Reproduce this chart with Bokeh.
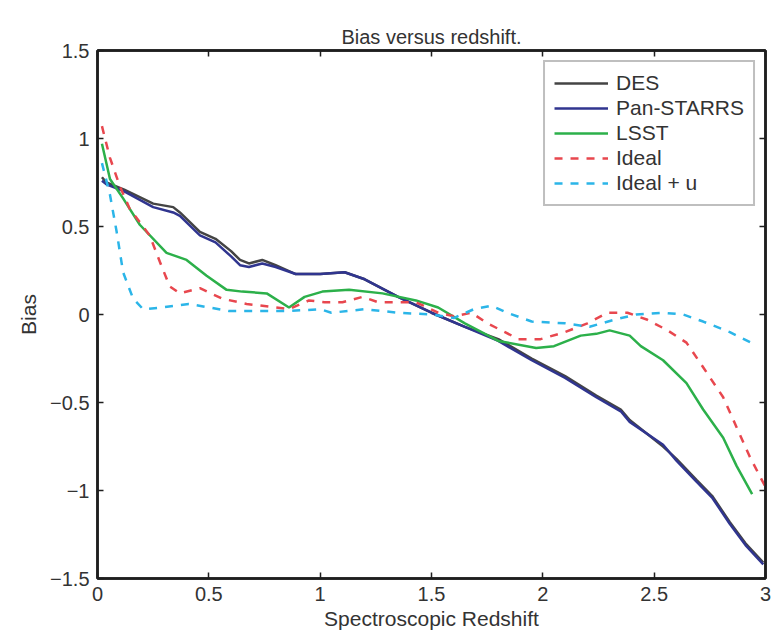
from bokeh.plotting import figure
from bokeh.models import LinearAxis, Range1d, Legend, LegendItem, FixedTicker, Title
from bokeh.embed import file_html
from bokeh.resources import INLINE

# ---- data ----
z_des = [0.02, 0.04, 0.12, 0.25, 0.34, 0.37, 0.46, 0.53, 0.60, 0.64, 0.68, 0.74, 0.80, 0.89,
         1.00, 1.11, 1.20, 1.35, 1.50, 1.65, 1.80, 1.95, 2.10, 2.24, 2.35, 2.39, 2.54, 2.60,
         2.69, 2.76, 2.84, 2.91, 2.99]
b_des = [0.78, 0.75, 0.71, 0.63, 0.61, 0.58, 0.47, 0.43, 0.36, 0.31, 0.29, 0.31, 0.28, 0.23,
         0.23, 0.24, 0.20, 0.10, 0.01, -0.07, -0.14, -0.25, -0.35, -0.46, -0.54, -0.60, -0.75,
         -0.82, -0.94, -1.03, -1.18, -1.30, -1.41]
z_pan = [0.02, 0.04, 0.12, 0.25, 0.34, 0.37, 0.46, 0.53, 0.60, 0.64, 0.68, 0.74, 0.80, 0.89,
         1.00, 1.11, 1.20, 1.35, 1.50, 1.65, 1.80, 1.95, 2.10, 2.24, 2.35, 2.39, 2.54, 2.60,
         2.69, 2.76, 2.84, 2.91, 2.99]
b_pan = [0.76, 0.74, 0.70, 0.61, 0.58, 0.56, 0.45, 0.41, 0.33, 0.28, 0.27, 0.29, 0.27, 0.23,
         0.23, 0.24, 0.20, 0.10, 0.01, -0.07, -0.15, -0.26, -0.36, -0.47, -0.55, -0.61, -0.74,
         -0.83, -0.95, -1.04, -1.19, -1.31, -1.42]
z_lsst = [0.02, 0.056, 0.115, 0.19, 0.31, 0.40, 0.49, 0.58, 0.65, 0.76, 0.86, 0.93, 1.01,
          1.13, 1.28, 1.43, 1.53, 1.65, 1.80, 1.97, 2.05, 2.17, 2.24, 2.30, 2.39, 2.44,
          2.54, 2.645, 2.72, 2.81, 2.87, 2.94]
b_lsst = [0.97, 0.77, 0.66, 0.51, 0.35, 0.31, 0.22, 0.14, 0.13, 0.12, 0.04, 0.10, 0.13,
          0.14, 0.12, 0.08, 0.04, -0.05, -0.15, -0.19, -0.18, -0.12, -0.11, -0.09, -0.12, -0.18,
          -0.26, -0.39, -0.54, -0.70, -0.86, -1.02]
z_ideal = [0.02, 0.056, 0.10, 0.145, 0.234, 0.28, 0.324, 0.37, 0.46, 0.56, 0.67, 0.80, 0.86,
           0.95, 1.02, 1.10, 1.19, 1.26, 1.34, 1.43, 1.53, 1.60, 1.68, 1.75, 1.83, 1.89,
           1.99, 2.10, 2.20, 2.29, 2.38, 2.47, 2.56, 2.645, 2.72, 2.81, 2.87, 2.93, 3.0]
b_ideal = [1.07, 0.89, 0.73, 0.60, 0.45, 0.30, 0.16, 0.12, 0.15, 0.09, 0.06, 0.04, 0.03,
           0.08, 0.07, 0.07, 0.10, 0.07, 0.07, 0.07, 0.01, -0.01, 0.01, -0.05, -0.10, -0.14,
           -0.14, -0.10, -0.05, 0.01, 0.01, -0.03, -0.09, -0.16, -0.30, -0.47, -0.64, -0.81, -0.98]
z_idealu = [0.02, 0.056, 0.086, 0.115, 0.16, 0.205, 0.29, 0.41, 0.50, 0.59, 0.71, 0.86, 1.00,
            1.05, 1.20, 1.35, 1.50, 1.60, 1.69, 1.77, 1.84, 1.95, 2.10, 2.21, 2.32, 2.42,
            2.54, 2.63, 2.72, 2.84, 2.95]
b_idealu = [0.86, 0.68, 0.47, 0.24, 0.09, 0.03, 0.04, 0.06, 0.04, 0.02, 0.02, 0.02, 0.03,
            0.01, 0.03, 0.01, 0.00, -0.02, 0.03, 0.05, 0.01, -0.04, -0.05, -0.07, -0.03, 0.00,
            0.01, 0.00, -0.04, -0.10, -0.17]

x_ticks = [0, 0.5, 1, 1.5, 2, 2.5, 3]
y_ticks = [-1.5, -1, -0.5, 0, 0.5, 1, 1.5]

FONT = "Liberation Sans"
TXT = "#333333"
AX = "#1e1e1e"

p = figure(width=771, height=635, output_backend="svg", toolbar_location=None,
           x_range=Range1d(0, 3), y_range=Range1d(-1.5, 1.5),
           min_border_left=97, min_border_right=6, min_border_top=50, min_border_bottom=57)
p.background_fill_color = "white"
p.border_fill_color = "white"
p.outline_line_color = AX
p.outline_line_width = 2.5
p.xgrid.visible = False
p.ygrid.visible = False

p.title = Title(text="Bias versus redshift.", align="center", text_font=FONT,
                text_font_size="20px", text_font_style="normal", text_color=TXT,
                standoff=6)

for ax in (p.xaxis[0], p.yaxis[0]):
    ax.axis_line_color = AX
    ax.axis_line_width = 2.5
    ax.major_tick_in = 6
    ax.major_tick_out = 0
    ax.minor_tick_line_color = None
    ax.major_tick_line_color = AX
    ax.major_tick_line_width = 1.5
    ax.major_label_text_font = FONT
    ax.major_label_text_font_size = "20px"
    ax.major_label_text_color = TXT
    ax.axis_label_text_font = FONT
    ax.axis_label_text_font_size = "21px"
    ax.axis_label_text_font_style = "normal"
    ax.axis_label_text_color = TXT

p.xaxis[0].ticker = FixedTicker(ticks=x_ticks)
p.yaxis[0].ticker = FixedTicker(ticks=y_ticks)
p.xaxis[0].axis_label = "Spectroscopic Redshift"
p.yaxis[0].axis_label = "Bias"
p.xaxis[0].major_label_standoff = 8
p.xaxis[0].axis_label_standoff = 3
p.yaxis[0].major_label_standoff = 8
p.yaxis[0].axis_label_standoff = 7

top = LinearAxis(ticker=FixedTicker(ticks=x_ticks), major_tick_in=6, major_tick_out=0,
                 major_tick_line_color=AX, major_tick_line_width=1.5,
                 minor_tick_line_color=None, major_label_text_font_size="0px",
                 major_label_text_color=None, major_label_standoff=0,
                 axis_line_color=AX, axis_line_width=2.5)
right = LinearAxis(ticker=FixedTicker(ticks=y_ticks), major_tick_in=6, major_tick_out=0,
                   major_tick_line_color=AX, major_tick_line_width=1.5,
                   minor_tick_line_color=None, major_label_text_font_size="0px",
                   major_label_text_color=None, major_label_standoff=0,
                   axis_line_color=AX, axis_line_width=2.5)
p.add_layout(top, "above")
p.add_layout(right, "right")

r1 = p.line(z_des, b_des, line_color="#444444", line_width=2.5)
r2 = p.line(z_pan, b_pan, line_color="#30358f", line_width=2.5)
r3 = p.line(z_lsst, b_lsst, line_color="#2cb04a", line_width=2.5)
r4 = p.line(z_ideal, b_ideal, line_color="#e8474e", line_width=2.5, line_dash="8 8")
r5 = p.line(z_idealu, b_idealu, line_color="#2bb5e8", line_width=2.5, line_dash="8 8")

legend = Legend(items=[LegendItem(label="DES", renderers=[r1]),
                       LegendItem(label="Pan-STARRS", renderers=[r2]),
                       LegendItem(label="LSST", renderers=[r3]),
                       LegendItem(label="Ideal", renderers=[r4]),
                       LegendItem(label="Ideal + u", renderers=[r5])],
                location="top_right")
legend.border_line_color = "#808080"
legend.border_line_width = 2
legend.background_fill_color = "white"
legend.background_fill_alpha = 1
legend.label_text_font = FONT
legend.label_text_font_size = "21px"
legend.label_text_color = TXT
legend.glyph_width = 54
legend.glyph_height = 20
legend.label_height = 20
legend.spacing = 1
legend.padding = 9
legend.margin = 10
legend.label_standoff = 8
p.add_layout(legend)

open("out.html", "w").write(file_html(p, INLINE))
